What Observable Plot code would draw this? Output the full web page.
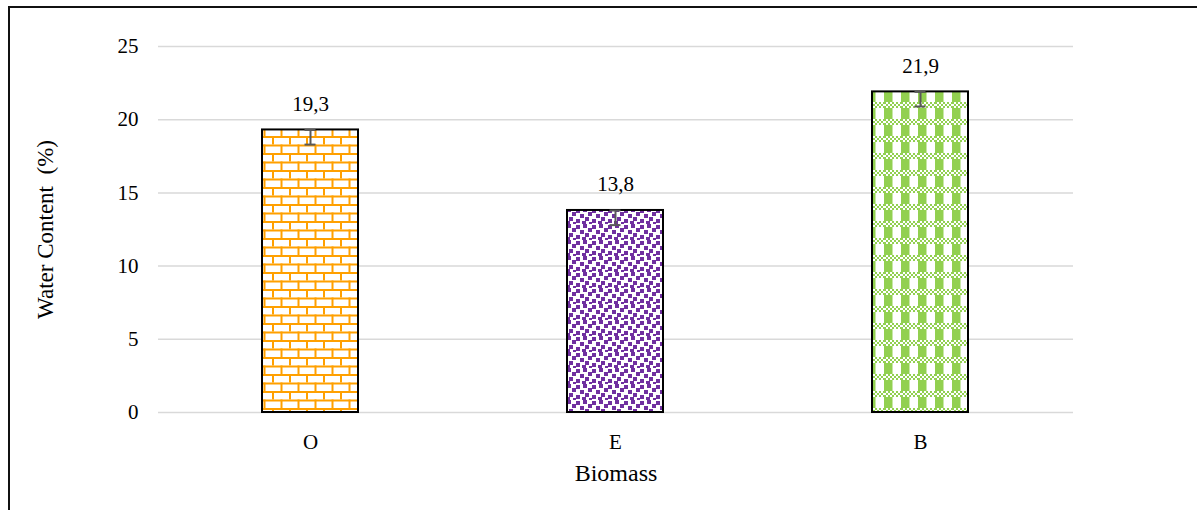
<!DOCTYPE html>
<html>
<head>
<meta charset="utf-8">
<script src="https://cdn.jsdelivr.net/npm/d3@7"></script>
<script src="https://cdn.jsdelivr.net/npm/@observablehq/plot@0.6"></script>
<style>
  html, body { margin: 0; padding: 0; background: #fff; overflow: hidden; }
  #wrap { position: relative; width: 1197px; height: 510px; }
  #chart { position: absolute; left: 0; top: 0; }
  #frame { position: absolute; left: 8px; top: 6px; width: 1300px; height: 600px;
           border-top: 2.5px solid #111; border-left: 2.5px solid #111; pointer-events: none; }
</style>
</head>
<body>
<div id="wrap"><div id="chart"></div><div id="frame"></div></div>
<script>
// Data
const categories = ["O", "E", "B"];
const values = [19.3, 13.8, 21.9];
const errors = [1.0, 1.0, 1.0];
const yTicks = [0, 5, 10, 15, 20, 25];
const xTitle = "Biomass";
const yTitle = "Water Content  (%)";

const rows = categories.map((c, i) => ({cat: c, value: values[i], err: errors[i]}));
const patternFills = ["url(#pat-brick)", "url(#pat-confetti)", "url(#pat-plaid)"];
const font = "'Liberation Serif', 'Times New Roman', serif";

const svg = Plot.plot({
  width: 1197,
  height: 510,
  marginLeft: 158,
  marginRight: 124,
  marginTop: 46,
  marginBottom: 98,
  style: {fontFamily: font, fontSize: "21px", color: "#000", background: "transparent"},
  x: {domain: categories, paddingInner: 0.685, paddingOuter: 0.3425, label: null},
  y: {domain: [0, 25], label: null},
  color: {domain: categories, range: patternFills},
  marks: [
    Plot.gridY(yTicks, {stroke: "#d9d9d9", strokeOpacity: 1, strokeWidth: 1.5}),
    Plot.axisY(yTicks, {tickSize: 0, tickPadding: 20, fontSize: 21, label: null}),
    Plot.axisX({tickSize: 0, tickPadding: 22, fontSize: 21, label: null}),
    Plot.barY(rows, {x: "cat", y: "value", fill: "cat", stroke: "#000", strokeWidth: 2}),
    Plot.ruleX(rows, {x: "cat", y1: d => d.value - d.err, y2: "value", stroke: "#595959", strokeWidth: 2}),
    Plot.tickY(rows, {x: "cat", y: "value", stroke: "#595959", strokeWidth: 2, insetLeft: 42.5, insetRight: 42.5}),
    Plot.tickY(rows, {x: "cat", y: d => d.value - d.err, stroke: "#595959", strokeWidth: 2, insetLeft: 42.5, insetRight: 42.5}),
    Plot.text(rows, {x: "cat", y: "value", text: d => d.value.toFixed(1).replace(".", ","), dy: -26, fontSize: 21, fill: "#000"}),
    Plot.text([xTitle], {frameAnchor: "bottom", dy: 68, text: d => d, fontSize: 24, fill: "#000"}),
    Plot.text([yTitle], {frameAnchor: "left", textAnchor: "middle", dx: -113, rotate: -90, text: d => d, fontSize: 23, fill: "#000"})
  ]
});

// Pattern definitions
const defs = d3.select(svg).insert("defs", ":first-child");
// Brick (orange)
const orange = "#FFA000";
const brick = defs.append("pattern").attr("id", "pat-brick").attr("patternUnits", "userSpaceOnUse")
  .attr("width", 17).attr("height", 17);
brick.append("rect").attr("width", 17).attr("height", 17).attr("fill", "#fff");
[[0, 0, 17, 2], [0, 8.5, 17, 2], [0, 0, 2, 8.5], [8.5, 8.5, 2, 8.5]].forEach(([x, y, w, h]) =>
  brick.append("rect").attr("x", x).attr("y", y).attr("width", w).attr("height", h).attr("fill", orange));
// Confetti (purple)
const purple = "#7030A0";
const conf = defs.append("pattern").attr("id", "pat-confetti").attr("patternUnits", "userSpaceOnUse")
  .attr("width", 16).attr("height", 16);
conf.append("rect").attr("width", 16).attr("height", 16).attr("fill", "#fff");
[[0, 1], [7, 0], [12, 4], [4, 6], [9, 9], [0, 11], [6, 13], [13, 14]].forEach(([x, y]) =>
  conf.append("rect").attr("x", x).attr("y", y).attr("width", 4).attr("height", 4).attr("fill", purple));
// Plaid (green)
const green = "#92D050";
const plaid = defs.append("pattern").attr("id", "pat-plaid").attr("patternUnits", "userSpaceOnUse")
  .attr("width", 17).attr("height", 17);
plaid.append("rect").attr("width", 17).attr("height", 17).attr("fill", "#fff");
plaid.append("rect").attr("x", 0).attr("y", 6).attr("width", 8.5).attr("height", 11).attr("fill", green);
for (let i = 0; i < 9; i++) {
  for (let j = 0; j < 3; j++) {
    if ((i + j) % 2 === 0) plaid.append("rect").attr("x", i * 2).attr("y", j * 2).attr("width", 2).attr("height", 2).attr("fill", green);
  }
}

document.getElementById("chart").appendChild(svg);
</script>
</body>
</html>
